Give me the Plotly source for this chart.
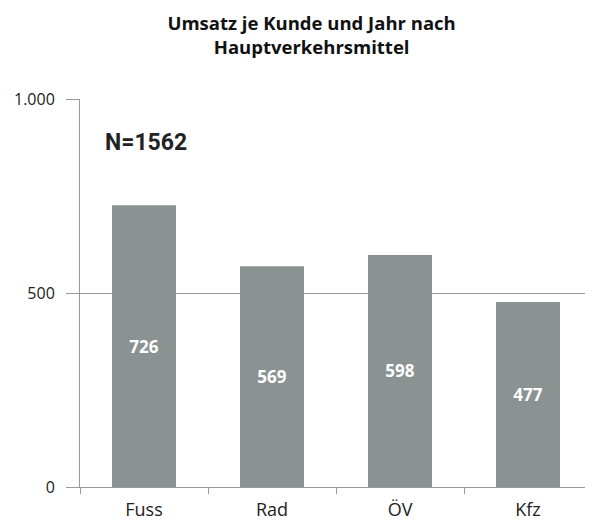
import plotly.graph_objects as go

categories = ["Fuss", "Rad", "ÖV", "Kfz"]
values = [726, 569, 598, 477]
y_tickvals = [0, 500, 1000]
y_ticktext = ["0", "500", "1.000"]

bar_color = "#8b9292"
grid_color = "#9a9a9a"

fig = go.Figure(go.Bar(
    x=categories, y=values,
    marker=dict(color=bar_color, line=dict(width=0)),
    width=0.5,
    text=[str(v) for v in values],
    textposition="inside", insidetextanchor="middle",
    textfont=dict(family="Open Sans", size=17, color="white", weight=700),
    textangle=0,
))

fig.update_layout(
    width=593, height=520,
    margin=dict(l=72, r=9, t=91, b=41),
    plot_bgcolor="white", paper_bgcolor="white",
    showlegend=False,
    title=dict(
        text="Umsatz je Kunde und Jahr nach<br>Hauptverkehrsmittel",
        x=0.512, xanchor="center", y=0.958, yanchor="top",
        font=dict(family="Open Sans", size=18.5, color="#111111", weight=700),
    ),
    annotations=[dict(
        text="N=1562", x=0.045, xref="paper", y=889, yref="y",
        xanchor="left", yanchor="middle", showarrow=False,
        font=dict(family="Roboto", size=23, color="#222222", weight=700),
    )],
)
fig.update_yaxes(
    range=[0, 1000], tickvals=y_tickvals, ticktext=y_ticktext,
    showgrid=True, gridcolor=grid_color, gridwidth=1,
    showline=True, linecolor=grid_color, linewidth=1,
    ticks="outside", ticklen=13, tickcolor=grid_color,
    ticklabelstandoff=8, automargin=False,
    tickfont=dict(family="Open Sans", size=16, color="#222222"),
    zeroline=False,
)
fig.update_xaxes(
    showline=True, linecolor=grid_color, linewidth=1,
    ticks="outside", tickson="boundaries", ticklen=6, tickcolor=grid_color,
    ticklabelstandoff=6, automargin=False,
    tickfont=dict(family="Open Sans", size=18, color="#222222"),
)

fig.write_html("out.html")
